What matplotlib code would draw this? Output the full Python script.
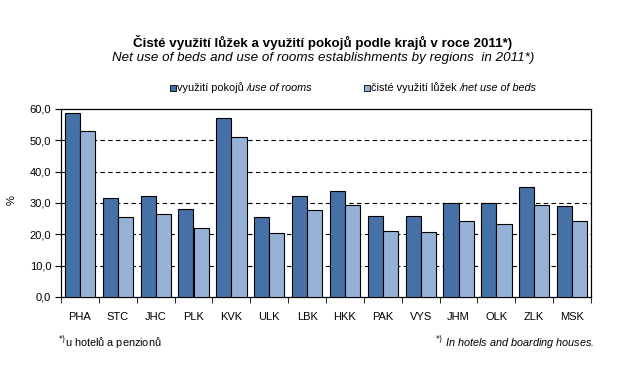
import matplotlib
matplotlib.use("Agg")
import matplotlib.pyplot as plt
from matplotlib.patches import Rectangle
import numpy as np

# ---------------------------------------------------------------------------
# DATA
# ---------------------------------------------------------------------------
kraje = ["PHA", "STC", "JHC", "PLK", "KVK", "ULK", "LBK",
         "HKK", "PAK", "VYS", "JHM", "OLK", "ZLK", "MSK"]
pokoje = [58.7, 31.6, 32.2, 28.1, 57.1, 25.5, 32.2,
          33.8, 25.9, 25.9, 30.0, 30.0, 35.1, 29.0]
luzka = [53.0, 25.5, 26.5, 22.0, 51.1, 20.4, 27.8,
         29.4, 21.1, 20.7, 24.3, 23.3, 29.4, 24.3]
y_ticks = [0, 10, 20, 30, 40, 50, 60]

plt.rcParams["font.family"] = ["Liberation Sans", "DejaVu Sans"]

W, H = 617, 375
fig = plt.figure(figsize=(W / 100, H / 100), dpi=100)
ax = fig.add_axes([61 / W, 1 - 297 / H, 530 / W, 188 / H])

x = np.arange(len(kraje))
w = 0.4
ax.bar(x - w / 2, pokoje, w, color="#4571A6", edgecolor="black", linewidth=0.8,
       zorder=3)
ax.bar(x + w / 2, luzka, w, color="#95B2D6", edgecolor="black", linewidth=0.8,
       zorder=3)

ax.set_xlim(-0.5, len(kraje) - 0.5)
ax.set_ylim(0, 60)
ax.set_yticks(y_ticks)
ax.set_yticklabels([f"{v:.1f}".replace(".", ",") for v in y_ticks], fontsize=8)
ax.set_xticks(x)
ax.set_xticklabels(kraje, fontsize=8)
ax.tick_params(axis="x", length=0, pad=11)
ax.set_xticks(np.arange(-0.5, len(kraje)), minor=True)
ax.tick_params(axis="x", which="minor", length=4, direction="out")
ax.tick_params(axis="y", length=4, direction="out", pad=3)
for v in y_ticks[1:-1]:
    ax.axhline(v, color="black", linestyle=(0, (4, 3)), linewidth=0.8, zorder=1)
for s in ax.spines.values():
    s.set_linewidth(0.9)

fig.text(12 / W, 1 - 200 / H, "%", rotation=90, fontsize=8,
         ha="center", va="center")

# titulky
fig.text(323 / W, 1 - 42 / H,
         "Čisté využití lůžek a využití pokojů podle krajů v roce 2011*)",
         fontsize=9.6, fontweight="bold", ha="center", va="center")
fig.text(323 / W, 1 - 58 / H,
         "Net use of beds and use of rooms establishments by regions  in 2011*)",
         fontsize=9.6, style="italic", ha="center", va="center")

# legenda
leg = [(170, "#4571A6", "využití pokojů ", "/use of rooms"),
       (364, "#95B2D6", "čisté využití lůžek ", "/net use of beds")]
for xp, col, cz, en in leg:
    fig.patches.append(Rectangle((xp / W, 1 - 91 / H), 6 / W, 6 / H,
                                 transform=fig.transFigure, facecolor=col,
                                 edgecolor="black", linewidth=0.6))
    t = fig.text((xp + 7) / W, 1 - 88 / H, cz, fontsize=7.8, va="center")
    fig.canvas.draw()
    bb = t.get_window_extent()
    fig.text(bb.x1 / W, 1 - 88 / H, en, fontsize=7.8, style="italic",
             va="center")

# poznamky
fig.text(58 / W, 1 - 343 / H, "$^{*)}$u hotelů a penzionů", fontsize=7.8,
         va="center")
fig.text(595 / W, 1 - 343 / H, "$^{*)}$ In hotels and boarding houses.",
         fontsize=7.8, style="italic", va="center", ha="right")

fig.savefig("out.png", dpi=100)
